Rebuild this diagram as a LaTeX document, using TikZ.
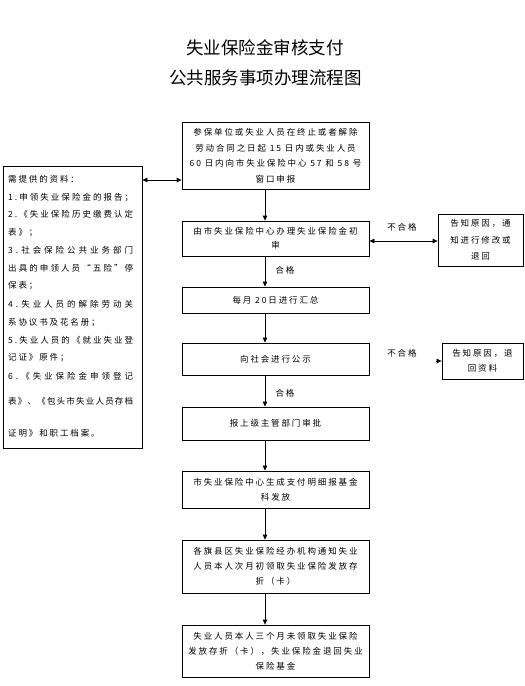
\documentclass[tikz,border=0pt]{standalone}
\usepackage{fontspec}
\setmainfont{Noto Sans CJK SC}
\newfontfamily\bodyf[LetterSpace=22]{Noto Sans CJK SC}
\usetikzlibrary{arrows.meta}
\def\myspread#1{\ifx\relax#1\else#1\hfil\expandafter\myspread\fi}
\newcommand{\jl}[1]{\hbox to 125pt{\myspread#1\relax\unskip}}
\begin{document}
\begin{tikzpicture}[x=1pt,y=-1pt,
  bodytext/.style={font=\fontsize{8.5}{15}\selectfont\bodyf},
  box/.style={draw, line width=0.8pt, inner sep=0pt, align=center, bodytext},
  mainbox/.style={box, minimum width=187pt},
  lline/.style={anchor=base west, inner sep=0pt, bodytext},
  lab/.style={inner sep=0pt, bodytext},
  titlef/.style={inner sep=0pt, font=\fontsize{17.5}{20}\selectfont},
  arr/.style={line width=0.8pt, -{Triangle[length=5pt,width=4.5pt]}},
  darr/.style={line width=0.8pt, {Triangle[length=5pt,width=4.5pt]}-{Triangle[length=5pt,width=4.5pt]}}
]
\useasboundingbox (0,0) rectangle (525,686);
\node[titlef] (t1) at (265,48) {失业保险金审核支付};
\node[titlef] (t2) at (265.5,78) {公共服务事项办理流程图};

\node[mainbox, minimum height=67pt] (b1) at (275.5,155.5) {参保单位或失业人员在终止或者解除\\[0.5pt]劳动合同之日起 15 日内或失业人员\\[0.5pt]60 日内向市失业保险中心 57 和 58 号\\[0.5pt]窗口申报};
\node[mainbox, minimum height=35pt] (b2) at (275.5,238.5) {由市失业保险中心办理失业保险金初\\[-1pt]审};
\node[mainbox, minimum height=26pt] (b3) at (275.5,300) {每月 20日进行汇总};
\node[mainbox, minimum height=32pt] (b4) at (275.5,359) {向社会进行公示};
\node[mainbox, minimum height=33pt] (b5) at (275.5,423.5) {报上级主管部门审批};
\node[mainbox, minimum height=37pt] (b6) at (275.5,489.5) {市失业保险中心生成支付明细报基金\\科发放};
\node[mainbox, minimum height=53pt] (b7) at (275.5,566.5) {各旗县区失业保险经办机构通知失业\\人员本人次月初领取失业保险发放存\\折（卡）};
\node[mainbox, minimum height=52pt] (b8) at (275.5,651) {失业人员本人三个月未领取失业保险\\发放存折（卡），失业保险金退回失业\\保险基金};

\node[box, minimum width=85pt, minimum height=52pt] (r1) at (480.5,240) {告知原因，通\\[1.5pt]知进行修改或\\[1.5pt]退回};
\node[box, minimum width=81pt, minimum height=36pt] (r2) at (482.5,361) {告知原因，退\\回资料};

\node[draw, line width=0.8pt, inner sep=0pt, minimum width=139pt, minimum height=282pt] (lb) at (72.5,307) {};
\node[lline] (l1) at (8,182.5) {需提供的资料：};
\node[lline] (l2) at (8,200.5) {\jl{1.申领失业保险金的报告；}};
\node[lline] (l3) at (8,217.5) {\jl{2.《失业保险历史缴费认定}};
\node[lline] (l4) at (8,235.5) {表》；};
\node[lline] (l5) at (8,253.5) {\jl{3.社会保险公共业务部门}};
\node[lline] (l6) at (8,271.5) {\jl{出具的申领人员“五险”停}};
\node[lline] (l7) at (8,288.5) {保表；};
\node[lline] (l8) at (8,307.5) {\jl{4.失业人员的解除劳动关}};
\node[lline] (l9) at (8,325.5) {系协议书及花名册；};
\node[lline] (l10) at (8,343.5) {\jl{5.失业人员的《就业失业登}};
\node[lline] (l11) at (8,360.5) {记证》原件；};
\node[lline] (l12) at (8,379.5) {\jl{6.《失业保险金申领登记}};
\node[lline] (l13) at (8,404.5) {\jl{表》、《包头市失业人员存档}};
\node[lline] (l14) at (8,436.5) {证明》和职工档案。};

\node[lab] (g1) at (285,270) {合格};
\node[lab] (g2) at (285,393) {合格};
\node[lab] (n1) at (402,227) {不合格};
\node[lab] (n2) at (402,353) {不合格};

\coordinate (ax) at (265,0);
\coordinate (ly) at (0,180);
\coordinate (ry) at (0,241);
\coordinate (stub) at (436,361);

\draw[darr] (lb.east |- ly) -- (b1.west |- ly);
\draw[arr] (b1.south -| ax) -- (b2.north -| ax);
\draw[arr] (b2.south -| ax) -- (b3.north -| ax);
\draw[arr] (b3.south -| ax) -- (b4.north -| ax);
\draw[arr] (b4.south -| ax) -- (b5.north -| ax);
\draw[arr] (b5.south -| ax) -- (b6.north -| ax);
\draw[arr] (b6.south -| ax) -- (b7.north -| ax);
\draw[arr] (b7.south -| ax) -- (b8.north -| ax);
\draw[darr] (b2.east |- ry) -- (r1.west |- ry);
\draw[arr] (stub) -- (r2.west);
\end{tikzpicture}
\end{document}
